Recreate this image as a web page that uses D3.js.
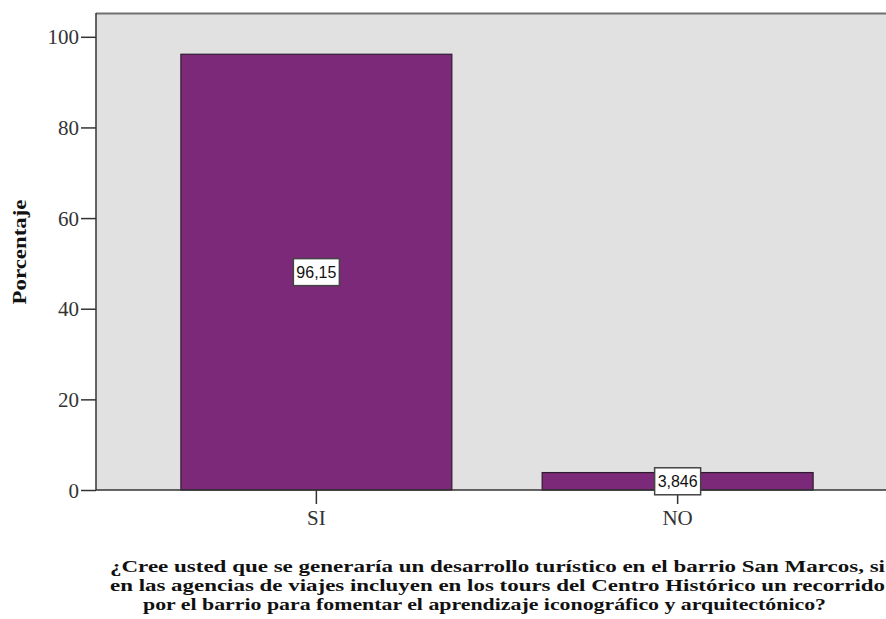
<!DOCTYPE html>
<html><head><meta charset="utf-8">
<script src="https://cdn.jsdelivr.net/npm/d3@7"></script>
<style>body{margin:0;background:#fff}svg{display:block}</style>
</head><body>
<script>
const categories = ["SI", "NO"];
const values = [96.15, 3.846];
const valueLabels = ["96,15", "3,846"];
const yTicks = [0, 20, 40, 60, 80, 100];
const yTitle = "Porcentaje";
const xTitleLines = [
  "¿Cree usted que se generaría un desarrollo turístico en el barrio San Marcos, si",
  "en las agencias de viajes incluyen en los tours del Centro Histórico un recorrido",
  "por el barrio para fomentar el aprendizaje iconográfico y arquitectónico?"
];

const W = 886, H = 619;
const mL = 96, mT = 13, mR = 898, mB = 490;
const svg = d3.select("body").append("svg").attr("width", W).attr("height", H);

const y = d3.scaleLinear().domain([0, 100]).range([490, 36.8]);
const x = d3.scaleBand().domain(categories).range([mL, mR]).paddingInner(0.25).paddingOuter(0.235);

svg.append("rect").attr("x", mL).attr("y", mT).attr("width", mR - mL).attr("height", mB - mT)
  .attr("fill", "#e1e1e1");
svg.append("line").attr("x1", mL).attr("x2", mR).attr("y1", mT + 0.5).attr("y2", mT + 0.5)
  .attr("stroke", "#707070").attr("stroke-width", 2);

const data = categories.map((c, i) => ({c, v: values[i], l: valueLabels[i]}));
svg.selectAll("rect.bar").data(data).join("rect").attr("class", "bar")
  .attr("x", d => x(d.c)).attr("y", d => y(d.v))
  .attr("width", x.bandwidth()).attr("height", d => y(0) - y(d.v))
  .attr("fill", "#7b2978").attr("stroke", "#2e1a2e").attr("stroke-width", 1.2);

// axes
const yAxis = d3.axisLeft(y).tickValues(yTicks).tickSize(15).tickPadding(2).tickFormat(d3.format("d"));
const gy = svg.append("g").attr("transform", `translate(${mL},0)`).call(yAxis);
gy.select(".domain").remove();
gy.append("line").attr("x1", 0).attr("x2", 0).attr("y1", mT).attr("y2", mB).attr("stroke", "#333").attr("stroke-width", 1.5);
gy.selectAll(".tick line").attr("stroke", "#333").attr("stroke-width", 1.5);
gy.selectAll(".tick text").attr("font-family", "'Liberation Serif', serif").attr("font-size", 21)
  .attr("fill", "#333").attr("dy", "0.34em");

const xAxis = d3.axisBottom(x).tickSize(14).tickPadding(6);
const gx = svg.append("g").attr("transform", `translate(0,${mB})`).call(xAxis);
gx.select(".domain").remove();
gx.append("line").attr("x1", mL).attr("x2", mR).attr("y1", 0).attr("y2", 0).attr("stroke", "#333").attr("stroke-width", 1.5);
gx.selectAll(".tick line").attr("stroke", "#333").attr("stroke-width", 1.5);
gx.selectAll(".tick text").attr("font-family", "'Liberation Serif', serif").attr("font-size", 21).attr("fill", "#333");

// value labels
const lab = svg.selectAll("g.lab").data(data).join("g").attr("class", "lab")
  .attr("transform", d => `translate(${x(d.c) + x.bandwidth() / 2},${(y(d.v) + y(0)) / 2})`);
lab.append("rect").attr("x", -23).attr("y", -13.5).attr("width", 46).attr("height", 27)
  .attr("fill", "#fff").attr("stroke", "#444").attr("stroke-width", 1.5);
lab.append("text").text(d => d.l).attr("text-anchor", "middle").attr("dy", "0.36em")
  .attr("font-family", "'Liberation Sans', Arial, sans-serif").attr("font-size", 17).attr("fill", "#111")
  .attr("textLength", 40).attr("lengthAdjust", "spacingAndGlyphs");

// y title
svg.append("text").attr("transform", "translate(26,252) rotate(-90)").attr("text-anchor", "middle")
  .attr("font-family", "'Liberation Serif', serif").attr("font-weight", "bold").attr("font-size", 19)
  .attr("textLength", 105).attr("lengthAdjust", "spacingAndGlyphs")
  .attr("fill", "#111").text(yTitle);

// x title
const tStart = [110, 110, 143], tLen = [775, 775, 683];
svg.append("g").selectAll("text").data(xTitleLines).join("text")
  .attr("x", (d, i) => tStart[i]).attr("y", (d, i) => 572 + i * 19.2)
  .attr("font-family", "'Liberation Serif', serif").attr("font-weight", "bold").attr("font-size", 17.5)
  .attr("textLength", (d, i) => tLen[i]).attr("lengthAdjust", "spacingAndGlyphs")
  .attr("fill", "#111").text(d => d);
</script>
</body></html>
